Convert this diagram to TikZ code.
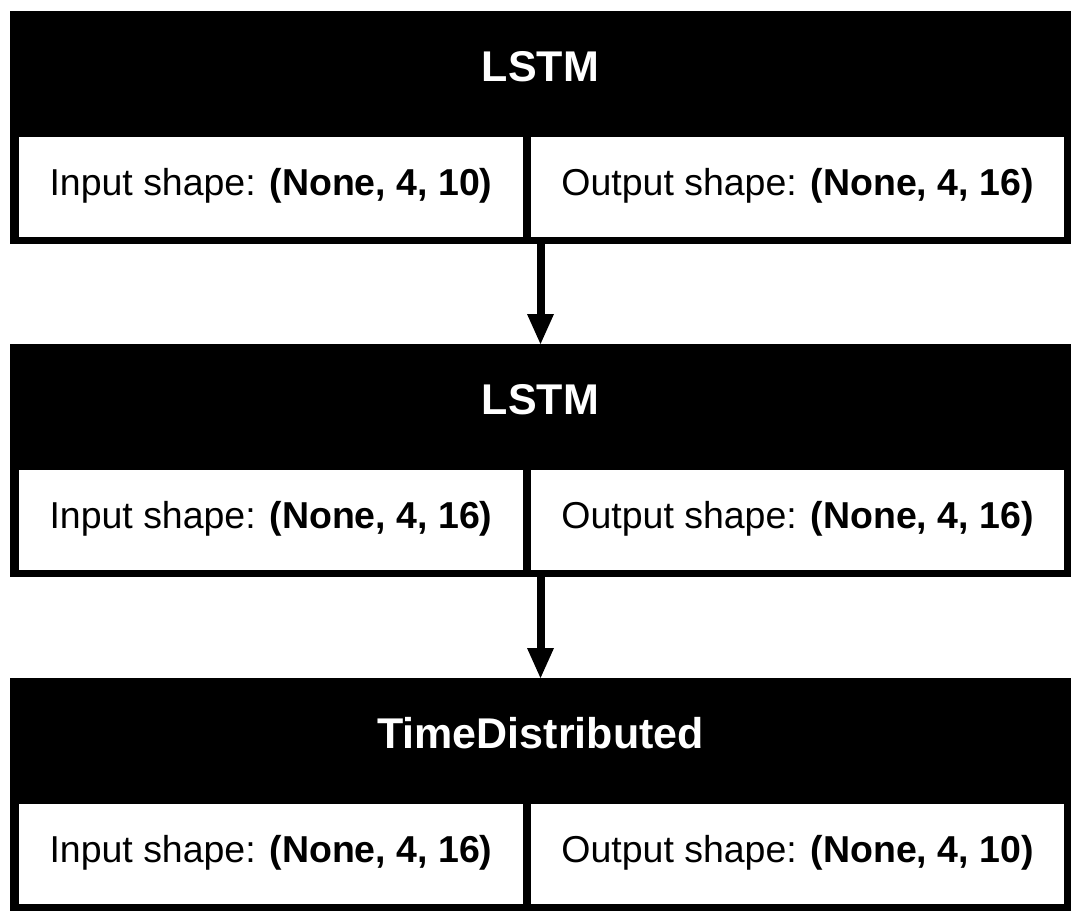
\documentclass[tikz,border=0pt]{standalone}
\usepackage{fontspec}
\setmainfont{Liberation Sans}
\usetikzlibrary{arrows.meta}

\begin{document}
\begin{tikzpicture}[
  x=0.75pt, y=-0.75pt,
  frame/.style={rectangle, fill=black, inner sep=0pt, outer sep=0pt,
                minimum width=795.75pt, minimum height=174.75pt, anchor=north west},
  lcell/.style={rectangle, fill=white, inner sep=0pt, outer sep=0pt,
                minimum width=378pt, minimum height=75pt, anchor=north west},
  rcell/.style={rectangle, fill=white, inner sep=0pt, outer sep=0pt,
                minimum width=399.75pt, minimum height=75pt, anchor=north west},
  title/.style={anchor=base, inner sep=0pt, text=white,
                font=\fontsize{32.25pt}{38pt}\selectfont\bfseries},
  info/.style={anchor=base, inner sep=0pt, text=black,
               font=\fontsize{28.1pt}{34pt}\selectfont},
  edge/.style={line width=6pt, line cap=butt,
               -{Triangle[width=20.25pt, length=22.5pt, line width=0pt]}}
]
\useasboundingbox (0,0) rectangle (1081,922);

% one layer block: name, top edge (px), title, input shape, output shape
\newcommand{\layerblock}[5]{%
  \node[frame] (#1) at (10,#2) {};
  \node[lcell] (#1in)  at (19,#2+126) {};
  \node[rcell] (#1out) at (531,#2+126) {};
  \node[title] (#1title) at (540.5,#2+70) {#3};
  \node[info]  (#1intext)  at (271,#2+184) {Input shape: \textbf{#4}};
  \node[info]  (#1outtext) at (797.5,#2+184) {Output shape: \textbf{#5}};
}

\layerblock{lstmA}{11}{LSTM}{(None, 4, 10)}{(None, 4, 16)}
\layerblock{lstmB}{344}{LSTM}{(None, 4, 16)}{(None, 4, 16)}
\layerblock{timedist}{678}{TimeDistributed}{(None, 4, 16)}{(None, 4, 10)}

\draw[edge] (lstmA.south) -- (lstmB.north);
\draw[edge] (lstmB.south) -- (timedist.north);
\end{tikzpicture}
\end{document}
